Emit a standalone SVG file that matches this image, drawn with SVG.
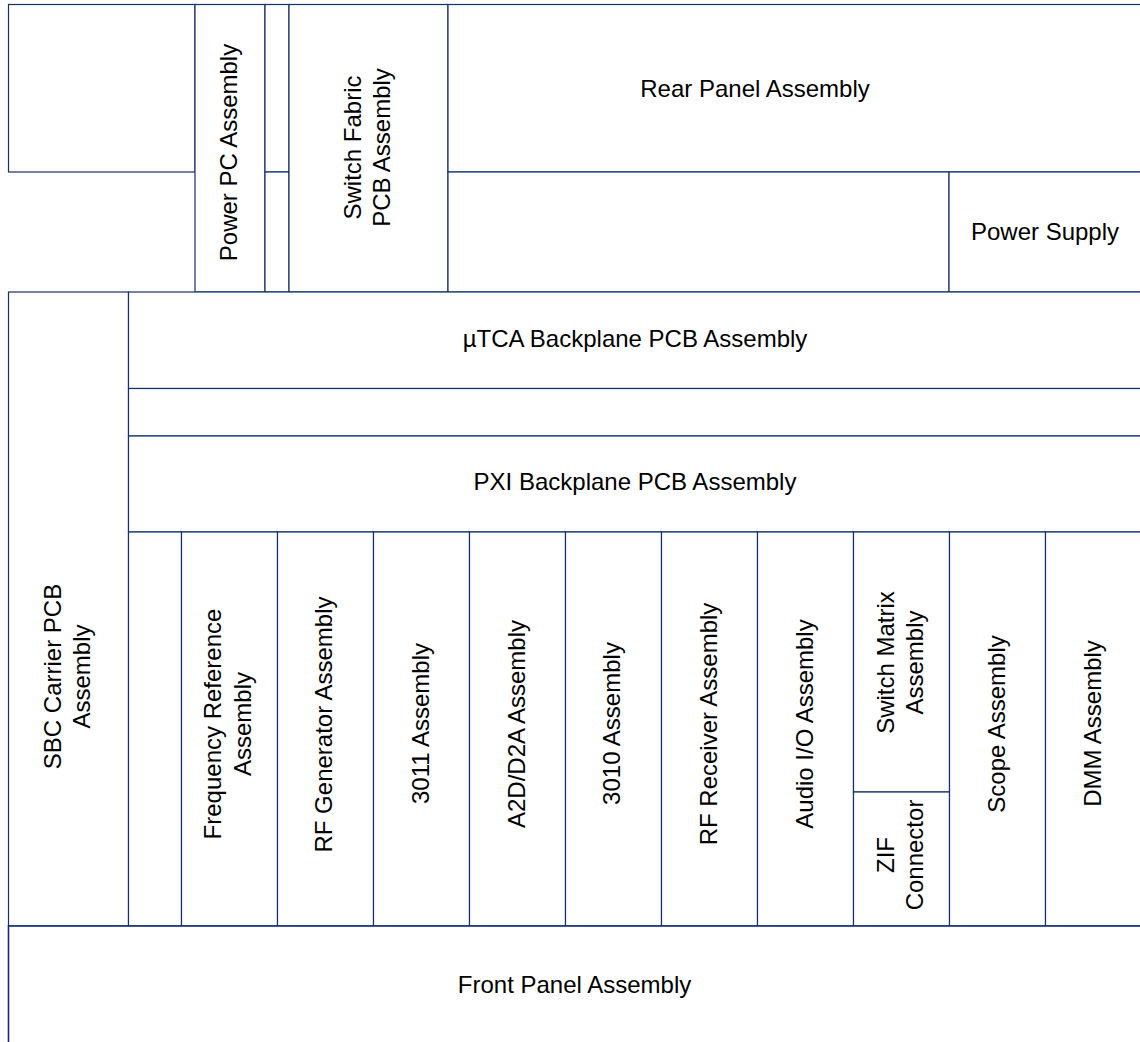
<svg xmlns="http://www.w3.org/2000/svg" width="1140" height="1042" viewBox="0 0 1140 1042">
  <style>
    .blk { fill: #ffffff; stroke: #13306e; stroke-width: 1.2; }
    .lbl { font-family: "Liberation Sans", Arial, sans-serif; font-size: 24px; fill: #000000; text-anchor: middle; }
  </style>
  <rect x="0" y="0" width="1140" height="1042" fill="#ffffff"/>

  <!-- Rear section -->
  <g id="blank-top-left"><rect class="blk" x="8.5" y="4.5" width="186.5" height="167.5"/></g>
  <g id="power-pc">
    <rect class="blk" x="195" y="4.5" width="70" height="287.5"/>
    <text class="lbl" transform="translate(237,152.5) rotate(-90)">Power PC Assembly</text>
  </g>
  <g id="spacer-upper"><rect class="blk" x="265" y="4.5" width="24" height="167.5"/></g>
  <g id="spacer-lower"><rect class="blk" x="265" y="172" width="24" height="120"/></g>
  <g id="switch-fabric">
    <rect class="blk" x="289" y="4.5" width="159" height="287.5"/>
    <text class="lbl" transform="translate(361,147.5) rotate(-90)">Switch Fabric</text>
    <text class="lbl" transform="translate(389.5,147.5) rotate(-90)">PCB Assembly</text>
  </g>
  <g id="rear-panel">
    <rect class="blk" x="448" y="4.5" width="693" height="167.5"/>
    <text class="lbl" x="755" y="96.5">Rear Panel Assembly</text>
  </g>
  <g id="rear-blank"><rect class="blk" x="448" y="172" width="501" height="120"/></g>
  <g id="power-supply">
    <rect class="blk" x="949" y="172" width="192" height="120"/>
    <text class="lbl" x="1045" y="239.5">Power Supply</text>
  </g>

  <!-- Backplanes -->
  <g id="sbc-carrier">
    <rect class="blk" x="8.5" y="292" width="120" height="634"/>
    <text class="lbl" transform="translate(61,676.5) rotate(-90)">SBC Carrier PCB</text>
    <text class="lbl" transform="translate(90,676.5) rotate(-90)">Assembly</text>
  </g>
  <g id="utca-backplane">
    <rect class="blk" x="128.5" y="292" width="1013" height="96.5"/>
    <text class="lbl" x="635" y="347.3">µTCA Backplane PCB Assembly</text>
  </g>
  <g id="mid-strip"><rect class="blk" x="128.5" y="388.5" width="1013" height="47.5"/></g>
  <g id="pxi-backplane">
    <rect class="blk" x="128.5" y="436" width="1013" height="96"/>
    <text class="lbl" x="635" y="490">PXI Backplane PCB Assembly</text>
  </g>

  <!-- Instrument slots -->
  <g id="slot-blank"><rect class="blk" x="128.5" y="532" width="53" height="394"/></g>
  <g id="frequency-reference">
    <rect class="blk" x="181.5" y="532" width="96" height="394"/>
    <text class="lbl" transform="translate(221,724) rotate(-90)">Frequency Reference</text>
    <text class="lbl" transform="translate(250.5,724) rotate(-90)">Assembly</text>
  </g>
  <g id="rf-generator">
    <rect class="blk" x="277.5" y="532" width="96" height="394"/>
    <text class="lbl" transform="translate(331.5,724.5) rotate(-90)">RF Generator Assembly</text>
  </g>
  <g id="assembly-3011">
    <rect class="blk" x="373.5" y="532" width="96" height="394"/>
    <text class="lbl" transform="translate(428.5,723.5) rotate(-90)">3011 Assembly</text>
  </g>
  <g id="a2d-d2a">
    <rect class="blk" x="469.5" y="532" width="96" height="394"/>
    <text class="lbl" transform="translate(525,724) rotate(-90)">A2D/D2A Assembly</text>
  </g>
  <g id="assembly-3010">
    <rect class="blk" x="565.5" y="532" width="96" height="394"/>
    <text class="lbl" transform="translate(619.5,723.5) rotate(-90)">3010 Assembly</text>
  </g>
  <g id="rf-receiver">
    <rect class="blk" x="661.5" y="532" width="96" height="394"/>
    <text class="lbl" transform="translate(717,724) rotate(-90)">RF Receiver Assembly</text>
  </g>
  <g id="audio-io">
    <rect class="blk" x="757.5" y="532" width="96" height="394"/>
    <text class="lbl" transform="translate(812.5,724) rotate(-90)">Audio I/O Assembly</text>
  </g>
  <g id="switch-matrix">
    <rect class="blk" x="853.5" y="532" width="96" height="260"/>
    <text class="lbl" transform="translate(893.5,662.5) rotate(-90)">Switch Matrix</text>
    <text class="lbl" transform="translate(923,662.5) rotate(-90)">Assembly</text>
  </g>
  <g id="zif-connector">
    <rect class="blk" x="853.5" y="792" width="96" height="134"/>
    <text class="lbl" transform="translate(894,855) rotate(-90)">ZIF</text>
    <text class="lbl" transform="translate(923,855) rotate(-90)">Connector</text>
  </g>
  <g id="scope">
    <rect class="blk" x="949.5" y="532" width="96" height="394"/>
    <text class="lbl" transform="translate(1004.5,724) rotate(-90)">Scope Assembly</text>
  </g>
  <g id="dmm">
    <rect class="blk" x="1045.5" y="532" width="96" height="394"/>
    <text class="lbl" transform="translate(1101,723.5) rotate(-90)">DMM Assembly</text>
  </g>

  <!-- Front section -->
  <g id="front-panel">
    <rect class="blk" x="8.5" y="926" width="1133" height="122" style="stroke-width:1.6"/>
    <text class="lbl" x="574.5" y="993.3">Front Panel Assembly</text>
  </g>

  <!-- No connectors: blocks abut directly -->
  <g id="connectors"/>
</svg>
